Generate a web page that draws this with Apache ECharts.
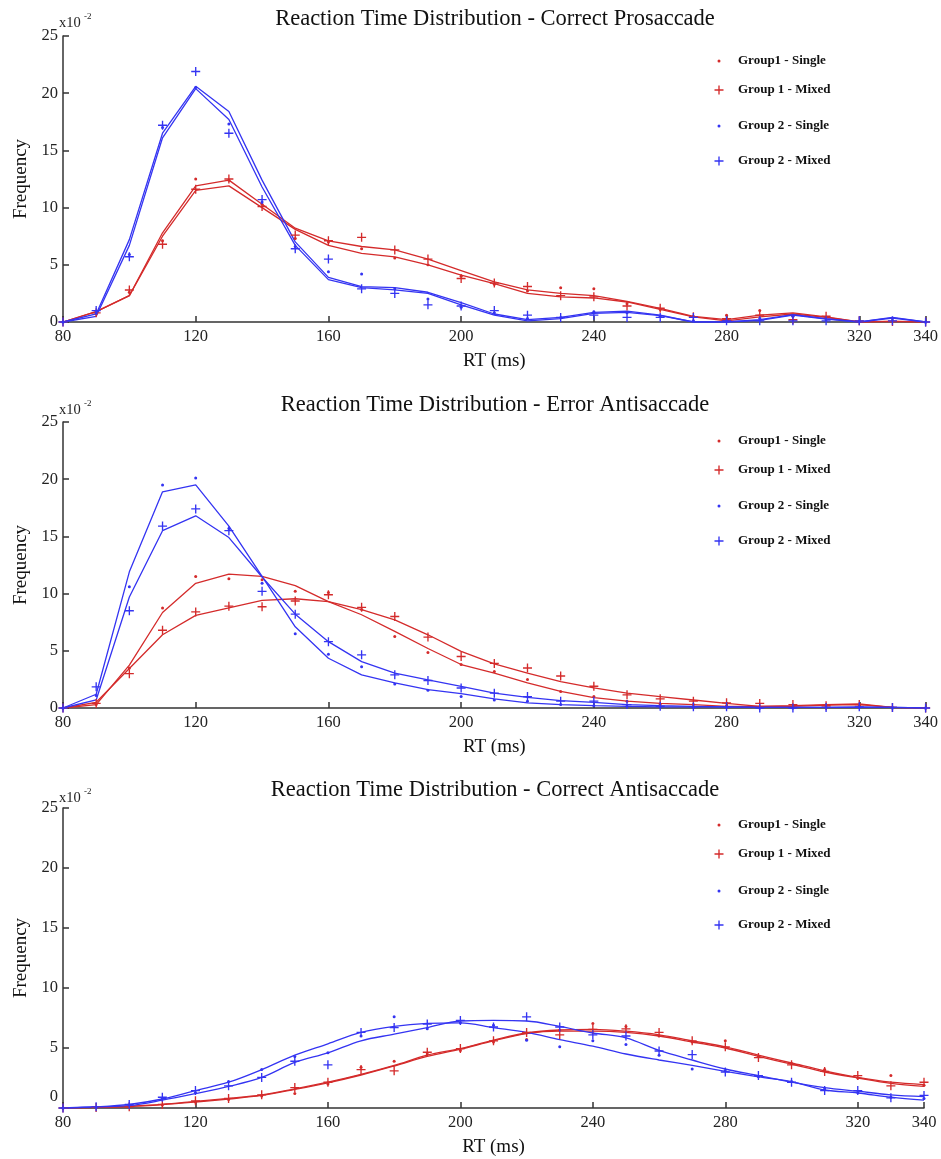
<!DOCTYPE html>
<html>
<head>
<meta charset="utf-8">
<script src="https://cdn.jsdelivr.net/npm/echarts@6/dist/echarts.min.js"></script>
<style>
  html, body { margin: 0; padding: 0; background: #fff; }
  #main { width: 941px; height: 1159px; }
</style>
</head>
<body>
<div id="main"></div>
<script>
// RT bins (ms)
var rt = [80, 90, 100, 110, 120, 130, 140, 150, 160, 170, 180, 190, 200, 210, 220, 230, 240, 250, 260, 270, 280, 290, 300, 310, 320, 330, 340];
var names = ['Group1 - Single', 'Group 1 - Mixed', 'Group 2 - Single', 'Group 2 - Mixed'];
var titles = [
  'Reaction Time Distribution - Correct Prosaccade',
  'Reaction Time Distribution - Error Antisaccade',
  'Reaction Time Distribution - Correct Antisaccade'
];

// frequencies (x10^-2) - Correct Prosaccade
var proG1SingleDots = [0, 0.7, 2.6, 7.1, 12.5, 12.4, 10.3, 7.3, 7.0, 6.4, 5.6, 5.0, 4.0, 3.3, 2.7, 3.0, 2.9, 1.6, 1.1, 0.5, 0.6, 1.0, 0.5, 0.4, 0.05, 0.1, 0];
var proG1MixedDots = [0, 0.8, 2.8, 6.8, 11.6, 12.5, 10.1, 7.6, 7.1, 7.4, 6.3, 5.5, 3.8, 3.4, 3.1, 2.3, 2.2, 1.4, 1.2, 0.45, 0.3, 0.6, 0.2, 0.5, 0.1, 0.05, 0];
var proG2SingleDots = [0, 0.8, 5.9, 17.0, 20.5, 17.3, 10.5, 6.6, 4.4, 4.2, 2.9, 2.0, 1.3, 0.8, 0.3, 0.4, 0.9, 0.8, 0.5, 0.1, 0.05, 0.3, 0.5, 0.2, 0.05, 0.3, 0];
var proG2MixedDots = [0, 1.0, 5.7, 17.2, 21.9, 16.5, 10.7, 6.4, 5.5, 2.9, 2.5, 1.5, 1.4, 1.0, 0.6, 0.4, 0.6, 0.4, 0.4, 0.4, 0.1, 0.1, 0.1, 0.1, 0.1, 0.1, 0];
var proG1SingleFit = [0, 0.9, 2.3, 7.5, 11.5, 11.9, 10.0, 8.1, 6.7, 6.0, 5.7, 5.0, 4.1, 3.35, 2.5, 2.2, 2.1, 1.75, 1.1, 0.45, 0.1, 0.45, 0.7, 0.4, 0, 0.05, 0];
var proG1MixedFit = [0, 0.9, 2.3, 7.8, 11.9, 12.4, 10.3, 8.2, 7.1, 6.6, 6.3, 5.5, 4.5, 3.5, 2.8, 2.5, 2.3, 1.8, 1.2, 0.5, 0.2, 0.6, 0.8, 0.45, 0, 0.05, 0];
var proG2SingleFit = [0, 0.5, 6.7, 16.1, 20.4, 17.7, 11.8, 6.7, 3.7, 3.0, 2.8, 2.5, 1.5, 0.6, 0.1, 0.3, 0.75, 0.85, 0.55, 0, 0, 0.15, 0.6, 0.25, 0, 0.35, 0];
var proG2MixedFit = [0, 0.7, 7.2, 16.5, 20.6, 18.4, 12.4, 7.0, 3.9, 3.1, 3.0, 2.6, 1.7, 0.7, 0.2, 0.4, 0.85, 0.95, 0.6, 0, 0, 0.2, 0.65, 0.3, 0, 0.4, 0];

// Error Antisaccade
var errG1SingleDots = [0, 0.3, 3.5, 8.75, 11.5, 11.3, 11.2, 10.2, 10.1, 8.6, 6.25, 4.85, 3.8, 3.2, 2.5, 1.45, 1.0, 0.6, 0.3, 0.3, 0.2, 0.1, 0.1, 0.2, 0.2, 0.05, 0];
var errG1MixedDots = [0, 0.4, 3.0, 6.8, 8.4, 8.9, 8.85, 9.35, 9.9, 8.8, 8.0, 6.2, 4.5, 3.9, 3.5, 2.8, 1.9, 1.15, 0.8, 0.6, 0.45, 0.4, 0.3, 0.2, 0.3, 0.05, 0];
var errG2SingleDots = [0, 1.1, 10.6, 19.5, 20.1, 15.7, 10.9, 6.5, 4.7, 3.6, 2.1, 1.55, 1.0, 0.7, 0.6, 0.3, 0.2, 0.15, 0.1, 0.05, 0.05, 0, 0, 0.05, 0.05, 0, 0];
var errG2MixedDots = [0, 1.85, 8.5, 15.9, 17.4, 15.5, 10.2, 8.2, 5.8, 4.65, 2.9, 2.4, 1.75, 1.3, 1.0, 0.6, 0.6, 0.3, 0.15, 0.1, 0.1, 0, 0, 0.05, 0.1, 0.05, 0];
var errG1SingleFit = [0, 0.3, 3.75, 8.35, 10.9, 11.7, 11.5, 10.7, 9.3, 8.15, 6.7, 5.2, 3.8, 3.05, 2.2, 1.45, 0.9, 0.6, 0.4, 0.3, 0.15, 0.15, 0.15, 0.25, 0.3, 0.05, 0];
var errG1MixedFit = [0, 0.5, 3.45, 6.4, 8.1, 8.75, 9.4, 9.55, 9.3, 8.6, 7.7, 6.4, 4.95, 3.85, 3.05, 2.3, 1.75, 1.3, 1.0, 0.7, 0.4, 0.15, 0.2, 0.3, 0.35, 0.05, 0];
var errG2SingleFit = [0, 1.2, 11.9, 18.9, 19.5, 15.9, 11.5, 7.1, 4.35, 2.9, 2.2, 1.6, 1.25, 0.8, 0.45, 0.3, 0.2, 0.15, 0.1, 0.1, 0.1, 0.05, 0.05, 0.05, 0.05, 0.05, 0];
var errG2MixedFit = [0, 0.7, 9.7, 15.5, 16.8, 14.9, 11.45, 8.2, 5.8, 4.05, 3.05, 2.45, 1.9, 1.3, 0.93, 0.65, 0.5, 0.3, 0.2, 0.15, 0.1, 0.05, 0.05, 0.05, 0.1, 0.05, 0];

// Correct Antisaccade
var antG1SingleDots = [0, 0.05, 0.1, 0.25, 0.5, 0.7, 1.0, 1.2, 2.0, 3.4, 3.9, 4.5, 4.8, 5.5, 5.7, 6.5, 7.05, 6.8, 6.0, 5.5, 5.6, 4.3, 3.7, 3.2, 2.5, 2.7, 1.9];
var antG1MixedDots = [0, 0.05, 0.1, 0.3, 0.6, 0.8, 1.1, 1.7, 2.15, 3.2, 3.1, 4.65, 4.95, 5.6, 6.3, 6.1, 6.55, 6.6, 6.3, 5.6, 5.1, 4.2, 3.6, 3.05, 2.7, 1.85, 2.15];
var antG2SingleDots = [0, 0.05, 0.25, 0.8, 1.3, 2.2, 3.2, 4.3, 4.6, 6.0, 7.6, 6.6, 7.1, 6.9, 5.65, 5.1, 5.6, 5.3, 4.4, 3.25, 3.1, 2.6, 2.2, 1.6, 1.3, 0.9, 0.8];
var antG2MixedDots = [0, 0.1, 0.3, 0.9, 1.45, 1.85, 2.55, 3.9, 3.6, 6.3, 6.7, 7.0, 7.3, 6.75, 7.6, 6.75, 6.1, 6.0, 4.75, 4.45, 3.0, 2.7, 2.15, 1.45, 1.45, 0.85, 1.05];
var antG1SingleFit = [0, 0.05, 0.12, 0.28, 0.5, 0.75, 1.05, 1.55, 2.1, 2.75, 3.5, 4.3, 4.9, 5.6, 6.2, 6.4, 6.4, 6.3, 6.0, 5.5, 5.0, 4.3, 3.65, 3.0, 2.5, 2.05, 1.8];
var antG1MixedFit = [0, 0.05, 0.15, 0.3, 0.55, 0.8, 1.1, 1.6, 2.15, 2.8, 3.55, 4.4, 4.95, 5.65, 6.25, 6.5, 6.55, 6.4, 6.1, 5.6, 5.1, 4.4, 3.75, 3.1, 2.55, 2.15, 1.95];
var antG2SingleFit = [0, 0.1, 0.3, 0.75, 1.45, 2.15, 3.2, 4.4, 5.35, 6.3, 6.8, 7.05, 7.1, 6.7, 6.3, 5.7, 5.15, 4.5, 4.0, 3.55, 3.05, 2.6, 2.2, 1.5, 1.25, 0.9, 0.65];
var antG2MixedFit = [0, 0.1, 0.2, 0.65, 1.2, 1.8, 2.55, 3.8, 4.6, 5.6, 6.15, 6.7, 7.25, 7.3, 7.25, 6.8, 6.25, 5.85, 4.8, 4.0, 3.25, 2.7, 2.15, 1.7, 1.4, 1.1, 0.95];

var panels = [
  { dots: [proG1SingleDots, proG1MixedDots, proG2SingleDots, proG2MixedDots],
    fits: [proG1SingleFit, proG1MixedFit, proG2SingleFit, proG2MixedFit], smooth: false },
  { dots: [errG1SingleDots, errG1MixedDots, errG2SingleDots, errG2MixedDots],
    fits: [errG1SingleFit, errG1MixedFit, errG2SingleFit, errG2MixedFit], smooth: false },
  { dots: [antG1SingleDots, antG1MixedDots, antG2SingleDots, antG2MixedDots],
    fits: [antG1SingleFit, antG1MixedFit, antG2SingleFit, antG2MixedFit], smooth: 0.35 }
];

var RED = '#d42b2b', BLUE = '#3434f2';
var colors = [RED, RED, BLUE, BLUE];
var PLUS = 'path://M0,4.25h10v1.5h-10zM4.25,0h1.5v10h-1.5z';
var serif = '"Liberation Serif", "Times New Roman", serif';

// layout of the three panels
var grids = [
  { left: 63, top: 36, width: 863, height: 286 },
  { left: 63, top: 422, width: 863, height: 286 },
  { left: 63, top: 808, width: 861, height: 300 }
];
var legendY = [[59, 88, 124, 159], [439, 468, 504, 539], [823, 852, 889, 923]];
var titleTop = [3, 389, 774];
var expTop = [16, 403, 791];

function zip(vals) {
  return rt.map(function (x, i) { return [x, vals[i]]; });
}

var xAxes = [], yAxes = [], series = [], legends = [], titleList = [], graphics = [];

grids.forEach(function (g, p) {
  xAxes.push({
    gridIndex: p, type: 'value', min: 80, max: 340, interval: 40,
    name: 'RT (ms)', nameLocation: 'middle', nameGap: 30,
    nameTextStyle: { fontFamily: serif, fontSize: 19, color: '#111' },
    axisLine: { lineStyle: { color: '#333', width: 1.5 } },
    axisTick: { inside: true, length: 6, lineStyle: { color: '#333', width: 1.5 } },
    axisLabel: { fontFamily: serif, fontSize: 16.5, color: '#222', margin: 6 },
    splitLine: { show: false }
  });
  yAxes.push({
    gridIndex: p, type: 'value', min: 0, max: 25, interval: 5,
    name: 'Frequency', nameLocation: 'middle', nameGap: 29,
    nameTextStyle: { fontFamily: serif, fontSize: 19, color: '#111' },
    axisLine: { show: true, lineStyle: { color: '#333', width: 1.5 } },
    axisTick: { show: true, inside: true, length: 6, lineStyle: { color: '#333', width: 1.5 } },
    axisLabel: {
      fontFamily: serif, fontSize: 16.5, color: '#222', margin: 5,
      // the bottom panel prints its 0 a little above the axis
      formatter: p === 2 ? function (v) { return v === 0 ? '{z|0}' : String(v); } : null,
      rich: { z: { fontFamily: serif, fontSize: 16.5, color: '#222', padding: [0, 0, 22, 0] } }
    },
    splitLine: { show: false }
  });
  titleList.push({
    text: titles[p], left: 490, top: titleTop[p], textAlign: 'center',
    textStyle: { fontFamily: serif, fontSize: 22.5, fontWeight: 'normal', color: '#111' }
  });
  graphics.push({ type: 'text', left: 59, top: expTop[p],
    style: { text: 'x10', font: '14.5px ' + serif, fill: '#222' } });
  graphics.push({ type: 'text', left: 84, top: expTop[p] - 4,
    style: { text: '-2', font: '9px ' + serif, fill: '#222' } });

  var pan = panels[p];
  for (var k = 0; k < 4; k++) {
    series.push({
      name: names[k] + ' fit', type: 'line', xAxisIndex: p, yAxisIndex: p,
      data: zip(pan.fits[k]), showSymbol: false, smooth: pan.smooth,
      lineStyle: { color: colors[k], width: 1.3 }, itemStyle: { color: colors[k] },
      silent: true, z: 2
    });
  }
  for (var k2 = 0; k2 < 4; k2++) {
    var isPlus = (k2 % 2 === 1);
    series.push({
      name: names[k2], type: 'scatter', xAxisIndex: p, yAxisIndex: p,
      data: zip(pan.dots[k2]),
      symbol: isPlus ? PLUS : 'circle', symbolSize: isPlus ? 9 : 3,
      itemStyle: { color: colors[k2], opacity: 1 }, z: 3
    });
    legends.push({
      data: [names[k2]], left: isPlus ? 709.5 : 712.5, top: legendY[p][k2] - 9.5,
      itemWidth: 28, itemHeight: isPlus ? 9 : 3, selectedMode: false,
      textStyle: { fontFamily: serif, fontWeight: 'bold', fontSize: 13, color: '#111' }
    });
  }
});

var chart = echarts.init(document.getElementById('main'), null, { renderer: 'canvas' });
chart.setOption({
  backgroundColor: '#fff',
  animation: false,
  title: titleList,
  legend: legends,
  grid: grids,
  xAxis: xAxes,
  yAxis: yAxes,
  graphic: graphics,
  series: series
});
</script>
</body>
</html>
